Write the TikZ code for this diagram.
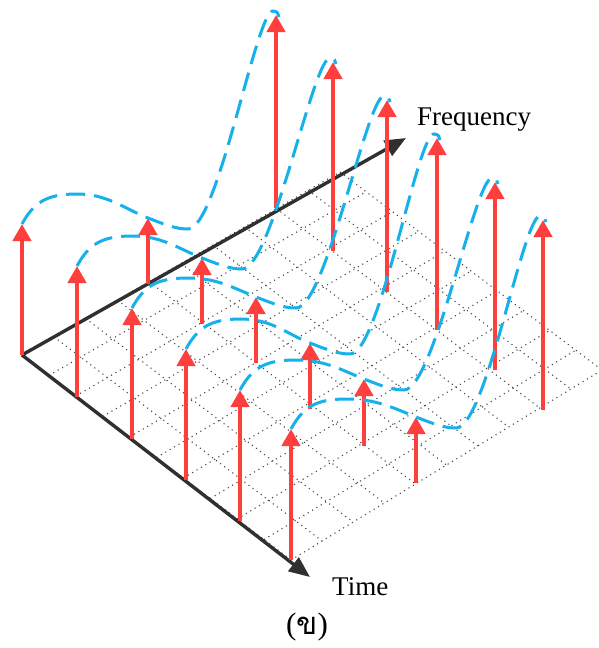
\documentclass[tikz,border=0pt]{standalone}
\usepackage{fontspec}
\setmainfont{Liberation Serif}
\newfontfamily\thaifont[Script=Thai]{Loma}
\usetikzlibrary{arrows.meta,calc}
\definecolor{stemred}{RGB}{255,62,62}
\definecolor{wavecyan}{RGB}{22,176,235}
\definecolor{axisgray}{RGB}{48,48,48}
\definecolor{dotgray}{RGB}{70,70,70}
\begin{document}
\begin{tikzpicture}[x=1pt,y=-1pt,
  stemarrow/.style={draw=stemred, line width=4.6pt, -{Triangle[length=17pt,width=18pt]}},
  wave/.style={draw=wavecyan, line width=3pt, dash pattern=on 19pt off 9pt},
  axisline/.style={draw=axisgray, line width=3.4pt, -{Triangle[length=21pt,width=17pt]}},
  gridline/.style={draw=dotgray, line width=1.1pt, dash pattern=on 1.1pt off 4pt},
  lbl/.style={font=\fontsize{27}{32}\selectfont, inner sep=0pt}]
\useasboundingbox (0,0) rectangle (598,648);

% grid corners
\coordinate (gO) at (22,355);
\coordinate (gA) at (340,172);
\coordinate (gC) at (291,560);
\coordinate (gD) at (602,370);
\foreach \k in {0,...,10} {
  \draw[gridline] ($(gO)!\k/10!(gA)$) -- ($(gC)!\k/10!(gD)$);
  \draw[gridline] ($(gO)!\k/10!(gC)$) -- ($(gA)!\k/10!(gD)$);
}

% axes
\coordinate (origin) at (22,355);
\coordinate (ftip) at (406,138);
\coordinate (ttip) at (310,577);
\draw[axisline] (origin) -- (ftip);
\draw[axisline] (origin) -- (ttip);

% stem positions: row / bin / base x / base y / tip y
\foreach \i/\j/\bx/\by/\ty in {
  0/0/22/355/224, 1/0/77/397/266, 2/0/132/439/308, 3/0/186/480/349, 4/0/240/521/390, 5/0/291/560/429,
  0/1/148/284/218, 1/1/202/324/258, 2/1/256/363/297, 3/1/310/409/343, 4/1/364/446/379, 5/1/416/483/417,
  0/2/276/208/15, 1/2/333/251/62, 2/2/387/292/100, 3/2/437/330/138, 4/2/495/370/182, 5/2/543/410/220} {
  \coordinate (b\i\j) at (\bx,\by);
  \coordinate (t\i\j) at (\bx,\ty);
}
\foreach \i in {0,...,5} {
  \foreach \j in {0,1,2} {
    \draw[stemarrow] (b\i\j) -- (t\i\j);
  }
}

% dashed envelopes
\foreach \i in {0,...,5} {
  \draw[wave] (t\i0)
    .. controls ($(t\i0)+(12,-22)$) and ($(t\i0)+(25,-30)$) .. ($(t\i0)+(55,-30)$)
    .. controls ($(t\i0)+(85,-30)$) and ($(t\i1)+(-25,-10)$) .. (t\i1)
    .. controls ($(t\i1)+(18,7)$) and ($(t\i1)+(28,11)$) .. ($(t\i1)+(40,11)$)
    .. controls ($(t\i1)+(70,11)$) and ($(t\i2)+(-20,-4)$) .. ($(t\i2)+(-3,-4)$)
    .. controls ($(t\i2)+(1,-4)$) and ($(t\i2)+(3,-1)$) .. ($(t\i2)+(3,2)$);
}

% labels
\node[lbl, anchor=base west] (flabel) at (417,125) {Frequency};
\node[lbl, anchor=base west] (tlabel) at (332,595) {Time};
\node[inner sep=0pt, anchor=base, font=\fontsize{31}{36}\selectfont] (caption) at (307,634) {(\thaifont ข\normalfont)};
\end{tikzpicture}
\end{document}
